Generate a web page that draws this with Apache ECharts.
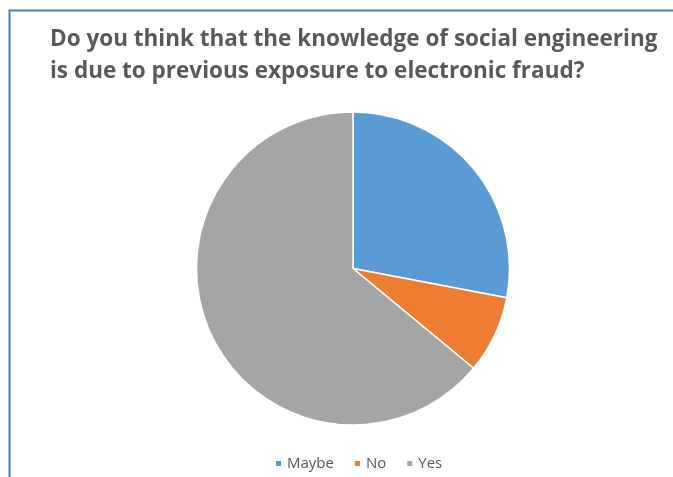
<!DOCTYPE html>
<html>
<head>
<meta charset="utf-8">
<script src="https://cdn.jsdelivr.net/npm/echarts@6/dist/echarts.min.js"></script>
<style>
  html, body { margin: 0; padding: 0; background: #ffffff; }
  #chart { width: 673px; height: 477px; }
</style>
</head>
<body>
<div id="chart"></div>
<script>
// Survey answers (percent of respondents)
const categories = ['Maybe', 'No', 'Yes'];
const values = [28, 8, 64];
const sliceColors = ['#5B9BD5', '#ED7D31', '#A5A5A5'];

const titleText = 'Do you think that the knowledge of social engineering\nis due to previous exposure to electronic fraud?';

const chart = echarts.init(document.getElementById('chart'), null, { renderer: 'canvas' });

chart.setOption({
  backgroundColor: '#ffffff',
  animation: false,
  title: {
    text: titleText,
    left: 45,
    top: 19,
    textStyle: {
      fontFamily: 'Open Sans',
      fontWeight: 'bold',
      fontSize: 22.5,
      lineHeight: 32,
      color: '#595959'
    }
  },
  legend: {
    data: categories,
    top: 451,
    left: 269,
    icon: 'rect',
    itemWidth: 7,
    itemHeight: 7,
    itemGap: 19,
    textStyle: { fontFamily: 'Open Sans', fontSize: 15, color: '#595959' }
  },
  graphic: [{
    type: 'rect',
    shape: { x: 9.5, y: 10.5, width: 700, height: 500 },
    style: { fill: 'none', stroke: '#4A7EBB', lineWidth: 2 },
    silent: true
  }],
  series: [{
    type: 'pie',
    center: [353, 268.5],
    radius: 156.5,
    startAngle: 90,
    clockwise: true,
    label: { show: false },
    labelLine: { show: false },
    itemStyle: { borderColor: '#ffffff', borderWidth: 1.5 },
    data: categories.map((name, i) => ({
      name: name,
      value: values[i],
      itemStyle: { color: sliceColors[i] }
    }))
  }]
});
</script>
</body>
</html>
